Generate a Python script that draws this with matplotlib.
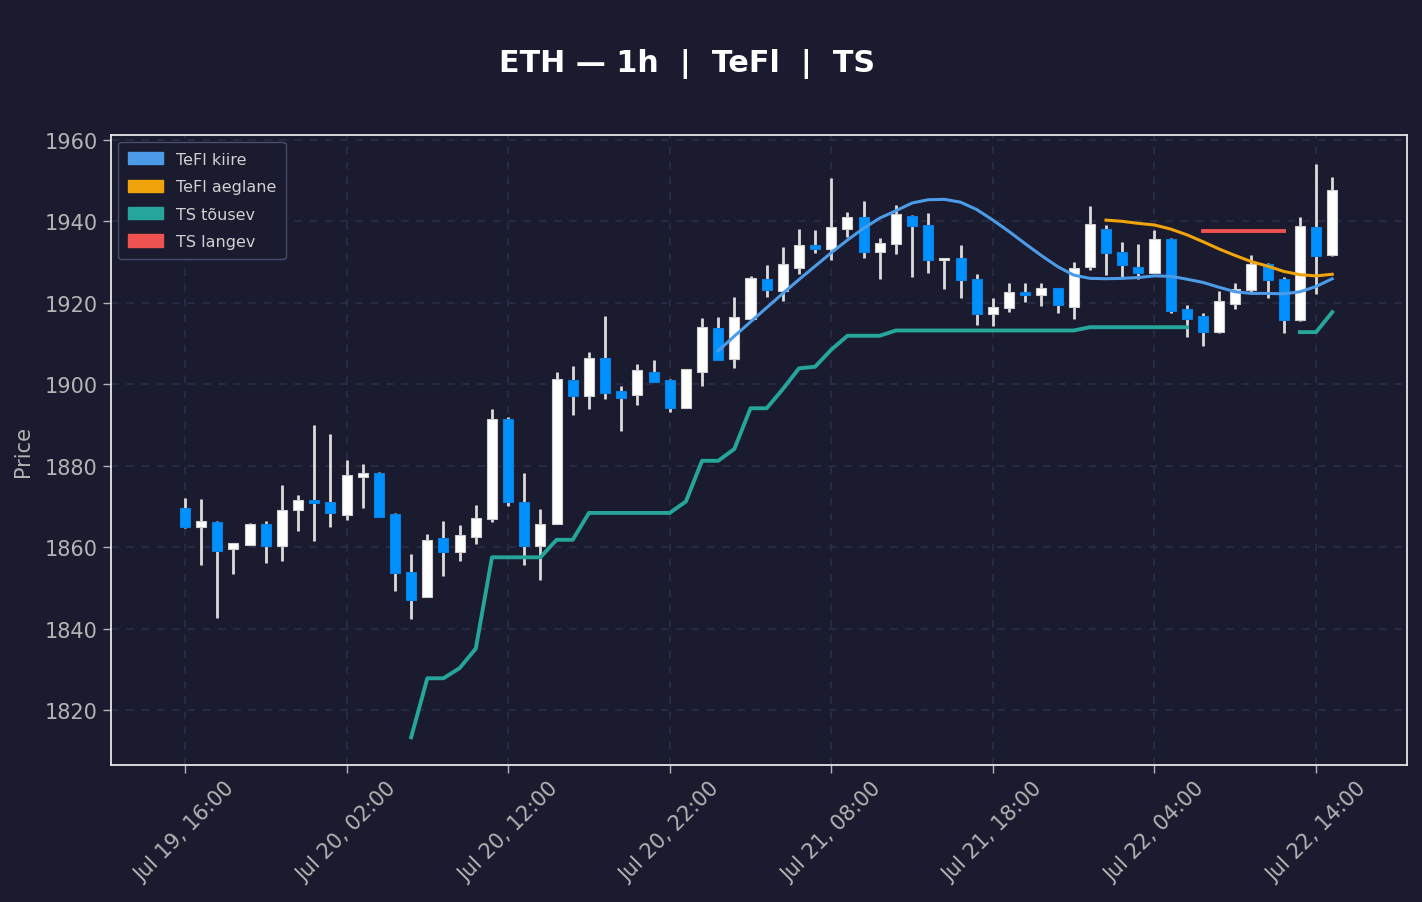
import numpy as np
import pandas as pd
import matplotlib
matplotlib.use("Agg")
import matplotlib.pyplot as plt
import matplotlib.dates as mdates
from matplotlib.patches import Patch

# hourly candles, Jul 19 16:00 -> Jul 22 15:00
times = pd.date_range("2023-07-19 16:00", periods=72, freq="h")

opens = [1869.6, 1865.0, 1866.1, 1859.6, 1860.6, 1865.8, 1860.4, 1869.0, 1871.5, 1871.2,
         1868.0, 1877.3, 1878.2, 1868.1, 1853.8, 1847.8, 1862.2, 1858.7, 1862.4, 1866.8,
         1891.4, 1871.2, 1860.4, 1865.8, 1901.0, 1897.2, 1906.4, 1898.3, 1897.4, 1902.9,
         1901.0, 1894.2, 1903.1, 1913.7, 1906.1, 1916.0, 1925.8, 1922.8, 1928.6, 1934.1,
         1933.1, 1938.2, 1941.0, 1932.4, 1934.4, 1941.3, 1939.0, 1930.5, 1930.9, 1925.8,
         1917.2, 1918.7, 1922.6, 1921.9, 1923.6, 1918.9, 1928.7, 1938.1, 1932.4, 1928.7,
         1927.3, 1935.6, 1918.4, 1916.7, 1912.8, 1919.7, 1923.1, 1929.5, 1925.8, 1915.7,
         1938.6, 1931.7]
highs = [1872.1, 1871.8, 1866.3, 1861.0, 1865.9, 1866.4, 1875.3, 1872.8, 1890.0, 1887.8,
         1881.4, 1880.4, 1878.4, 1868.4, 1858.3, 1863.2, 1866.4, 1865.4, 1870.3, 1893.9,
         1891.9, 1878.1, 1869.4, 1903.0, 1904.5, 1908.0, 1916.8, 1899.5, 1905.0, 1906.0,
         1901.2, 1903.8, 1916.3, 1916.5, 1921.4, 1926.5, 1929.3, 1933.7, 1938.1, 1937.9,
         1950.7, 1942.3, 1945.0, 1935.9, 1944.0, 1941.6, 1942.1, 1931.0, 1934.2, 1927.0,
         1921.1, 1924.9, 1924.8, 1924.8, 1923.7, 1930.0, 1943.7, 1939.0, 1934.9, 1934.4,
         1937.8, 1935.8, 1919.5, 1917.5, 1922.8, 1924.8, 1931.7, 1929.7, 1926.3, 1941.0,
         1954.1, 1950.9]
lows = [1864.8, 1855.7, 1842.6, 1853.4, 1860.5, 1856.2, 1856.7, 1864.0, 1861.6, 1865.0,
        1866.7, 1869.7, 1867.3, 1849.3, 1842.4, 1847.7, 1853.0, 1856.7, 1860.8, 1866.1,
        1870.2, 1855.7, 1852.0, 1865.7, 1892.5, 1893.9, 1896.4, 1888.5, 1894.8, 1900.5,
        1893.3, 1894.1, 1899.6, 1905.9, 1904.1, 1915.9, 1921.4, 1920.5, 1927.1, 1932.3,
        1930.6, 1936.1, 1931.1, 1925.9, 1932.1, 1926.3, 1927.2, 1923.3, 1921.1, 1914.5,
        1914.3, 1917.7, 1920.3, 1919.1, 1917.4, 1916.1, 1928.0, 1926.8, 1926.3, 1925.8,
        1927.2, 1917.4, 1911.5, 1909.3, 1912.7, 1918.4, 1922.6, 1921.1, 1912.5, 1915.6,
        1922.1, 1931.6]
closes = [1865.0, 1866.3, 1859.0, 1860.9, 1865.8, 1860.4, 1869.1, 1871.6, 1870.8, 1868.3,
          1877.6, 1878.2, 1867.5, 1853.6, 1846.9, 1861.7, 1858.7, 1862.9, 1867.1, 1891.4,
          1871.0, 1860.2, 1865.8, 1901.2, 1897.1, 1906.4, 1897.9, 1896.6, 1903.4, 1900.6,
          1894.2, 1903.7, 1914.0, 1906.0, 1916.4, 1926.0, 1923.1, 1929.5, 1934.1, 1933.2,
          1938.6, 1941.0, 1932.4, 1934.6, 1941.7, 1938.8, 1930.5, 1930.9, 1925.5, 1917.2,
          1918.9, 1922.6, 1921.9, 1923.6, 1919.4, 1928.5, 1939.3, 1932.2, 1929.2, 1927.3,
          1935.6, 1917.9, 1916.0, 1912.8, 1920.4, 1923.3, 1929.5, 1925.5, 1915.7, 1938.8,
          1931.4, 1947.6]

nan = np.nan
tefl_kiire = [nan] * 33 + [1908.2, 1911.8, 1915.3, 1918.8, 1922.3, 1925.7, 1929.0, 1932.3,
                           1935.4, 1938.3, 1940.8, 1942.6, 1944.5, 1945.3, 1945.4, 1944.7,
                           1942.9, 1940.3, 1937.5, 1934.5, 1931.6, 1928.9, 1926.8, 1926.0,
                           1925.9, 1926.0, 1926.2, 1926.6, 1926.5, 1925.8, 1925.0, 1923.8,
                           1922.7, 1922.3, 1922.3, 1922.2, 1922.7, 1924.0, 1925.9]
tefl_aeglane = [nan] * 57 + [1940.3, 1940.0, 1939.5, 1939.1, 1938.1, 1936.7, 1935.0, 1933.2,
                             1931.6, 1930.1, 1929.0, 1927.7, 1926.9, 1926.6, 1927.0]
ts_tousev = ([nan] * 14 + [1813.3, 1827.8, 1827.8, 1830.3, 1835.1]
             + [1857.5] * 4 + [1861.8] * 2 + [1868.4] * 6 + [1871.2, 1881.2, 1881.2, 1884.1,
             1894.1, 1894.1, 1898.8, 1903.9, 1904.3, 1908.5, 1911.9, 1911.9, 1911.9]
             + [1913.2] * 12 + [1914.0] * 7 + [nan] * 6 + [1912.8, 1912.8, 1917.7])
ts_langev = [nan] * 63 + [1937.7] * 6 + [nan] * 3

bg = "#1a1b2e"
up_col = "#ffffff"
down_col = "#0091ff"
wick_col = "#dcdcdc"
text_col = "#b4b4b4"

fig = plt.figure(figsize=(14.22, 9.03), dpi=100, facecolor=bg)
ax = fig.add_axes([0.078, 0.1517, 0.9115, 0.6977], facecolor=bg)

x = mdates.date2num(times)
o = np.array(opens)
c = np.array(closes)
up = c >= o
body_w = 0.62 / 24

# wicks first, bodies on top
ax.vlines(x, lows, highs, color=wick_col, lw=2, zorder=2)
bottom = np.minimum(o, c)
height = np.maximum(np.abs(c - o), 0.35)
ax.bar(x[up], height[up], body_w, bottom[up], color=up_col, edgecolor="#cfcfcf", lw=0.8, zorder=3)
ax.bar(x[~up], height[~up], body_w, bottom[~up], color=down_col, edgecolor="#0a7fe0", lw=0.8, zorder=3)

ax.plot(x, tefl_kiire, color="#4c9be8", lw=2.2, zorder=4)
ax.plot(x, tefl_aeglane, color="#f0a30a", lw=2.2, zorder=4)
ax.plot(x, ts_tousev, color="#26a69a", lw=2.8, zorder=4)
ax.plot(x, ts_langev, color="#ef5350", lw=2.8, zorder=4)

# axes, ticks, grid
ax.set_ylim(1806.5, 1961.2)
ax.set_yticks(np.arange(1820, 1961, 20))
t0 = times[0]
ax.set_xlim(mdates.date2num(t0 - pd.Timedelta(hours=4.58)),
            mdates.date2num(times[-1] + pd.Timedelta(hours=4.63)))
ax.set_xticks(mdates.date2num(pd.date_range(t0, periods=8, freq="10h")))
ax.xaxis.set_major_formatter(mdates.DateFormatter("%b %d, %H:%M"))
plt.setp(ax.get_xticklabels(), rotation=45, ha="center")

ax.grid(True, color="#2c2f4c", ls=(0, (5, 5)), lw=1.1)
ax.set_axisbelow(True)
ax.tick_params(colors=text_col, labelsize=15, length=6, width=1)
for s in ax.spines.values():
    s.set_color("#e6e6e6")
    s.set_linewidth(1.3)
ax.set_ylabel("Price", color=text_col, fontsize=15, labelpad=8)

handles = [Patch(color="#4c9be8", label="TeFl kiire"),
           Patch(color="#f0a30a", label="TeFl aeglane"),
           Patch(color="#26a69a", label="TS tõusev"),
           Patch(color="#ef5350", label="TS langev")]
leg = ax.legend(handles=handles, loc="upper left", fontsize=11.5, facecolor=bg,
                edgecolor="#4a4d6e", framealpha=1, labelcolor="#d0d0d0",
                handlelength=2.2, handleheight=0.8, borderpad=0.6, labelspacing=0.78,
                borderaxespad=0.45)

fig.text(0.483, 0.929, "ETH — 1h  |  TeFl  |  TS", color="white", fontsize=21.7,
         fontweight="bold", ha="center", va="center")

fig.savefig("out.png", dpi=100, facecolor=bg)
